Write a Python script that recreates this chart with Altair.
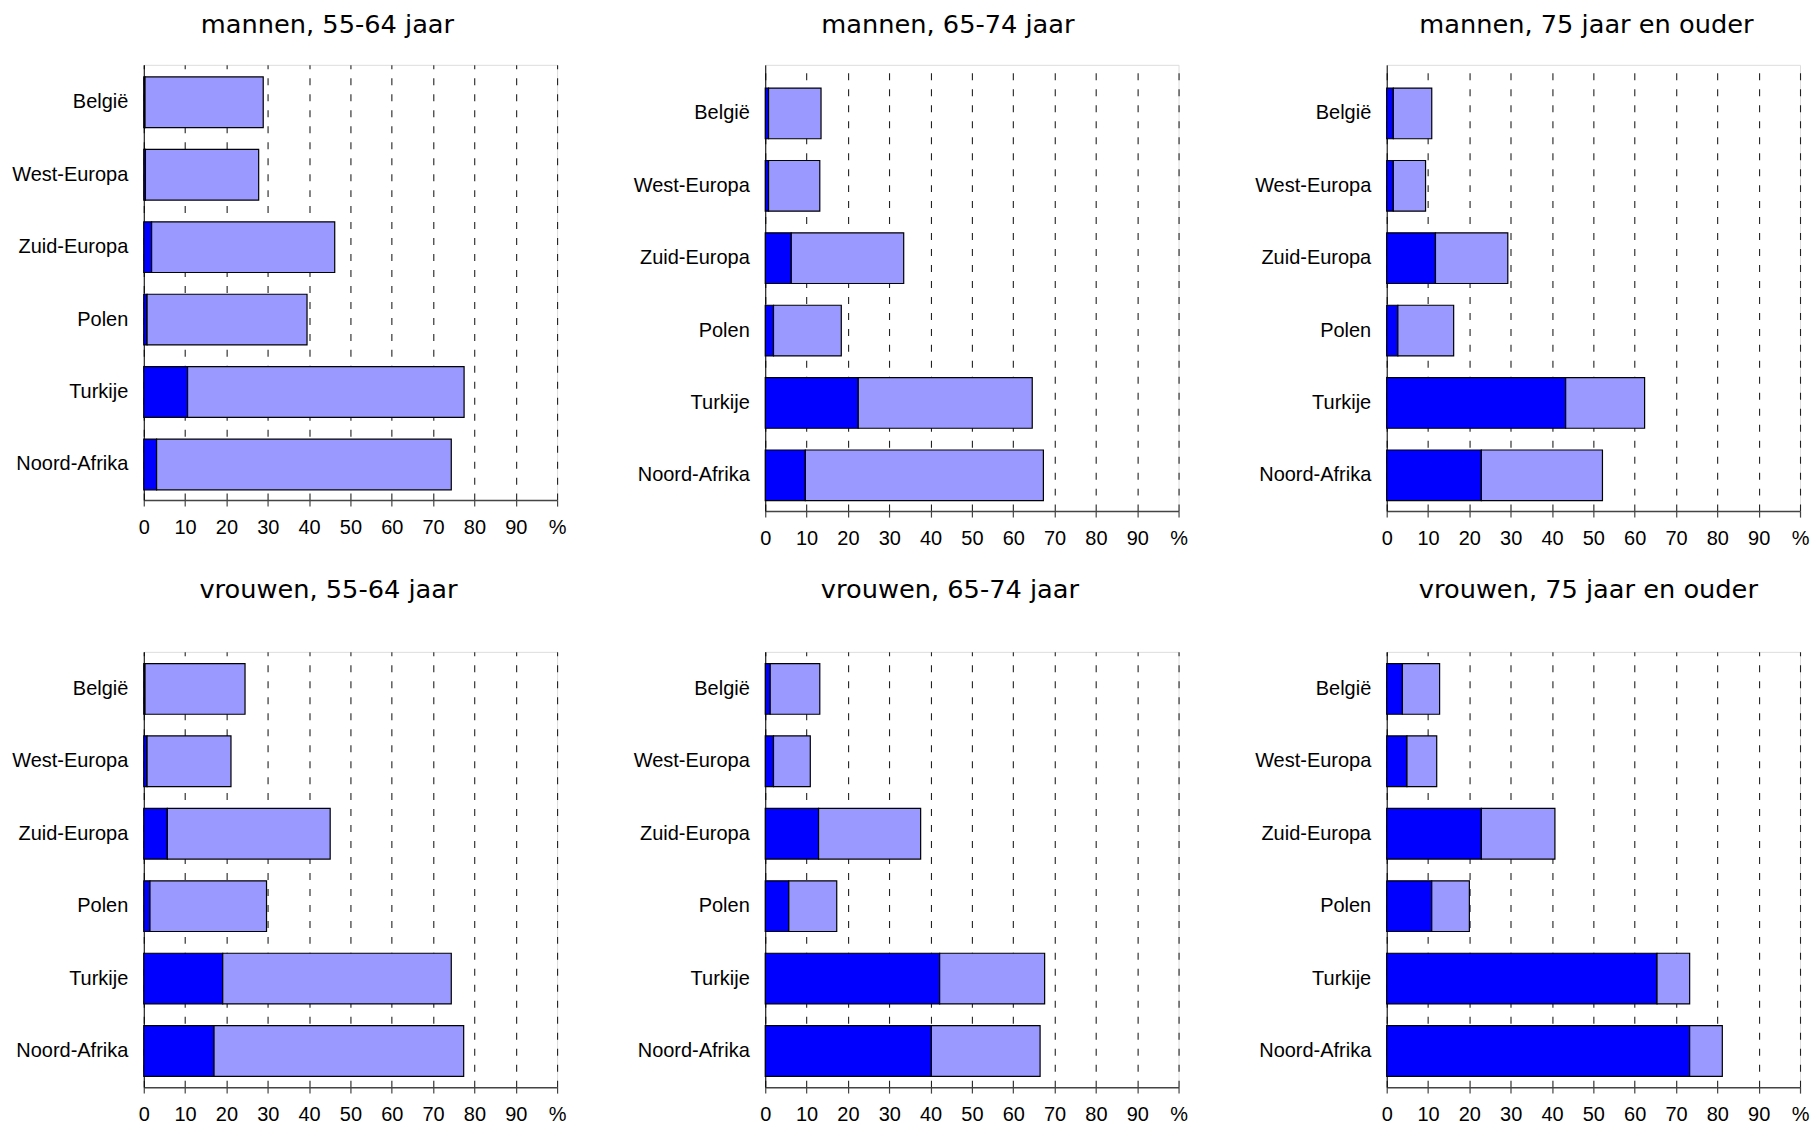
import altair as alt
import pandas as pd

categories = ["België", "West-Europa", "Zuid-Europa", "Polen", "Turkije", "Noord-Afrika"]
series_names = ["donker", "licht"]

panel_titles = [
    "mannen, 55-64 jaar", "mannen, 65-74 jaar", "mannen, 75 jaar en ouder",
    "vrouwen, 55-64 jaar", "vrouwen, 65-74 jaar", "vrouwen, 75 jaar en ouder",
]

# dark (first) segment per category, one list per panel
dark_m_55 = [0.3, 0.4, 1.9, 0.8, 10.6, 3.1]
dark_m_65 = [0.8, 0.8, 6.3, 2.0, 22.5, 9.7]
dark_m_75 = [1.6, 1.6, 11.8, 2.7, 43.3, 22.9]
dark_v_55 = [0.3, 0.8, 5.7, 1.5, 19.1, 17.0]
dark_v_65 = [1.2, 2.0, 12.9, 5.7, 42.2, 40.2]
dark_v_75 = [3.8, 4.9, 22.9, 10.9, 65.4, 73.3]

# light (second) segment per category
light_m_55 = [28.6, 27.4, 44.3, 38.7, 66.9, 71.3]
light_m_65 = [12.7, 12.4, 27.2, 16.4, 42.1, 57.6]
light_m_75 = [9.3, 7.8, 17.5, 13.5, 19.1, 29.3]
light_v_55 = [24.2, 20.3, 39.4, 28.2, 55.3, 60.4]
light_v_65 = [12.0, 8.9, 24.7, 11.6, 25.4, 26.3]
light_v_75 = [9.0, 7.2, 17.8, 9.1, 7.9, 7.9]

tick_values = [0, 10, 20, 30, 40, 50, 60, 70, 80, 90, 100]

darks = [dark_m_55, dark_m_65, dark_m_75, dark_v_55, dark_v_65, dark_v_75]
lights = [light_m_55, light_m_65, light_m_75, light_v_55, light_v_65, light_v_75]

rows = []
for p, title in enumerate(panel_titles):
    for i, c in enumerate(categories):
        rows.append({"panel": title, "category": c, "series": series_names[0], "ord": 0, "value": darks[p][i]})
        rows.append({"panel": title, "category": c, "series": series_names[1], "ord": 1, "value": lights[p][i]})
df = pd.DataFrame(rows)

LABEL_FONT = "Liberation Sans"
TITLE_FONT = "DejaVu Sans"

title_dx = [-23, -24, -7, -22, -22, -5]
title_offset = [6, 6, 6, 28, 28, 28]
panel_height = [436, 447, 447, 436, 436, 436]
pad_outer = [0.155, 0.233, 0.233, 0.155, 0.155, 0.155]
band_align = [0.54, 0.69, 0.69, 0.52, 0.52, 0.52]


def panel(p):
    title = panel_titles[p]
    return (
        alt.Chart(df)
        .transform_filter(alt.datum.panel == title)
        .mark_bar(stroke="black", strokeWidth=1.2)
        .encode(
            y=alt.Y(
                "category:N",
                sort=categories,
                scale=alt.Scale(paddingInner=0.3, paddingOuter=pad_outer[p], align=band_align[p]),
                axis=alt.Axis(
                    title=None, ticks=False, grid=False, domainColor="black", domainWidth=1,
                    labelFont=LABEL_FONT, labelFontSize=20, labelColor="black", labelPadding=16,
                ),
            ),
            x=alt.X(
                "value:Q",
                stack="zero",
                scale=alt.Scale(domain=[0, 100], nice=False, zero=True),
                axis=alt.Axis(
                    title=None, values=tick_values, labelFlush=False,
                    labelExpr="datum.value == 100 ? '%' : datum.label",
                    grid=True, gridDash=[7, 9], gridColor="#222222", gridWidth=1.1,
                    domainColor="#444444", domainWidth=1.5,
                    tickColor="#444444", tickSize=6, tickWidth=1.2,
                    labelFont=LABEL_FONT, labelFontSize=20, labelColor="black", labelPadding=11,
                ),
            ),
            color=alt.Color(
                "series:N",
                scale=alt.Scale(domain=series_names, range=["#0000FF", "#9999FF"]),
                legend=None,
            ),
            order=alt.Order("ord:Q"),
        )
        .properties(
            width=414,
            height=panel_height[p],
            title=alt.TitleParams(
                title, font=TITLE_FONT, fontSize=25.7, fontWeight="normal", color="black",
                anchor="middle", frame="group", baseline="alphabetic",
                dx=title_dx[p], offset=title_offset[p],
            ),
        )
    )


row1 = alt.hconcat(panel(0), panel(1), panel(2), spacing=65.5)
row2 = alt.hconcat(panel(3), panel(4), panel(5), spacing=65.5)

chart = (
    alt.vconcat(row1, row2, spacing=27)
    .properties(padding={"left": 3, "top": 2, "right": 0, "bottom": 0})
    .configure_view(stroke=None)
    .configure(background="white")
)

chart.save("out.html", embed_options={"renderer": "svg", "actions": False})
